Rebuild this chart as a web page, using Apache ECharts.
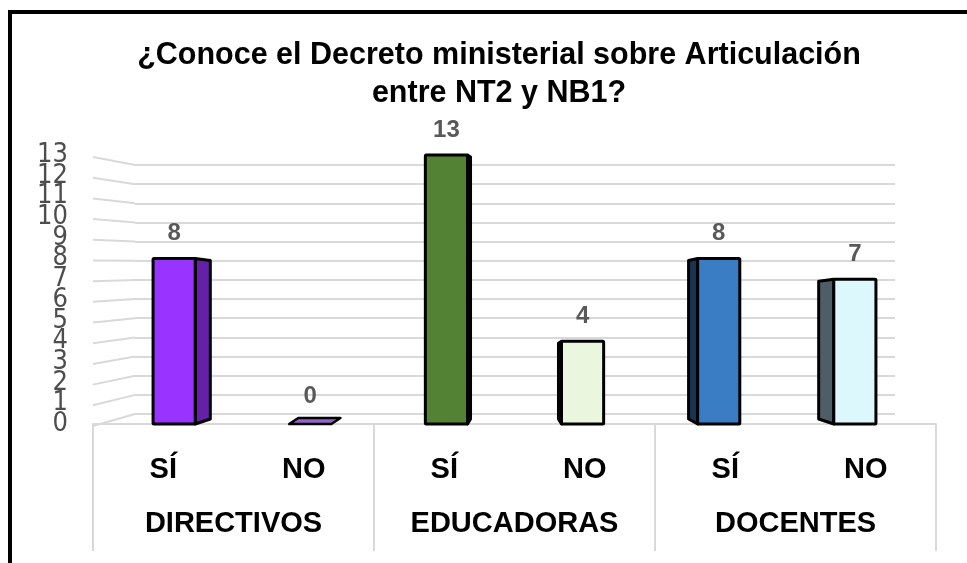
<!DOCTYPE html>
<html>
<head>
<meta charset="utf-8">
<script src="https://cdn.jsdelivr.net/npm/echarts@6/dist/echarts.min.js"></script>
<style>
  html, body { margin: 0; padding: 0; background: #fff; }
  #chart { width: 967px; height: 563px; }
</style>
</head>
<body>
<div id="chart"></div>
<script>
  // datos
  var titulo = '¿Conoce el Decreto ministerial sobre Articulación\nentre NT2 y NB1?'
  var respuestas = ['SÍ', 'NO', 'SÍ', 'NO', 'SÍ', 'NO']
  var grupos = ['DIRECTIVOS', 'EDUCADORAS', 'DOCENTES']
  var valores = [8, 0, 13, 4, 8, 7]
  var yMin = 0, yMax = 13, yPaso = 1

  var colorFrente = ['#9933ff', '#9564c9', '#548235', '#ebf6df', '#3b7dc4', '#dcf8fd']
  var colorLado = ['#6420a8', '#6a3f99', '#3b5e25', '#b9cca6', '#1b3352', '#4f5e66']

  var narrow = '"Liberation Sans Narrow", "DejaVu Sans Condensed", sans-serif'
  var sans = '"Liberation Sans", Arial, sans-serif'
  var gris = '#d9d9d9'

  var chart = echarts.init(document.getElementById('chart'))

  function renderBar(params, api) {
    var i = api.value(0), v = api.value(1)
    var base = api.coord([i, 0])
    var top = api.coord([i, v])
    var cs = params.coordSys
    var vp = cs.x + cs.width / 2
    var fx = base[0] + (vp - base[0]) * 0.031
    var lado = (vp - base[0]) * 0.043
    var w = api.size([1, 0])[0] * 0.3
    var y0 = base[1], y1 = top[1]
    var children = []
    var st = { stroke: '#000', lineWidth: 3, lineJoin: 'round' }
    if (v === 0) {
      children.push({
        type: 'polygon',
        shape: { points: [[fx - w / 2, y0], [fx + w / 2, y0], [fx + w / 2 + lado, y0 - 6], [fx - w / 2 + lado, y0 - 6]] },
        style: Object.assign({ fill: colorFrente[i] }, st, { lineWidth: 2.5 })
      })
      y1 = y0 - 3
    } else {
      var x1 = lado > 0 ? fx + w / 2 : fx - w / 2
      var x2 = x1 + lado
      children.push({
        type: 'polygon',
        shape: { points: [[x1, y1], [x2, y1 + 2], [x2, y0 - 5], [x1, y0]] },
        style: Object.assign({ fill: colorLado[i] }, st)
      })
      children.push({
        type: 'rect',
        shape: { x: fx - w / 2, y: y1, width: w, height: y0 - y1, r: 1 },
        style: Object.assign({ fill: colorFrente[i] }, st)
      })
    }
    children.push({
      type: 'text',
      style: {
        text: String(v), x: fx, y: y1 - 25,
        align: 'center', verticalAlign: 'middle',
        fontFamily: sans, fontWeight: 'bold', fontSize: 24, fill: '#595959'
      }
    })
    return { type: 'group', children: children }
  }

  // las etiquetas del eje Y se solapan: se reparten en dos ejes (pares / impares)
  // para que ECharts no oculte ninguna
  function ejeY(par) {
    return {
      type: 'value', gridIndex: 0, min: yMin, max: yMax, interval: yPaso, position: 'left',
      axisLine: { show: false }, axisTick: { show: false }, splitLine: { show: false },
      axisLabel: {
        margin: 25, fontFamily: narrow, fontSize: 27, color: '#4d4d4d',
        showMinLabel: true, showMaxLabel: true,
        formatter: function (v) { return (v % 2 === 0) === par ? String(v) : '' }
      }
    }
  }

  var option = {
    animation: false,
    backgroundColor: '#fff',
    title: {
      text: titulo,
      left: 494,
      top: 32,
      textAlign: 'center',
      textStyle: { fontFamily: sans, fontWeight: 'bold', fontSize: 30.5, lineHeight: 38, color: '#000' }
    },
    grid: [
      { left: 93, right: 31, top: 155, bottom: 139 },
      { left: 135, right: 72, top: 165, bottom: 149 }
    ],
    xAxis: [
      {
        type: 'category', gridIndex: 0, data: respuestas,
        axisLine: { show: false }, axisTick: { show: false },
        axisLabel: { margin: 31, fontFamily: sans, fontWeight: 'bold', fontSize: 29, color: '#000' }
      },
      {
        type: 'category', gridIndex: 0, data: grupos, position: 'bottom', offset: 4,
        axisLine: { show: true, lineStyle: { color: gris, width: 2 } },
        axisTick: { show: true, length: 127, lineStyle: { color: gris, width: 2 } },
        axisLabel: { margin: 81, fontFamily: sans, fontWeight: 'bold', fontSize: 29, color: '#000' }
      },
      { type: 'category', gridIndex: 1, data: respuestas, show: false }
    ],
    yAxis: [
      ejeY(true),
      {
        type: 'value', gridIndex: 1, min: yMin, max: yMax, interval: yPaso,
        axisLine: { show: false }, axisTick: { show: false }, axisLabel: { show: false },
        splitLine: { show: true, lineStyle: { color: gris, width: 2 } }
      },
      ejeY(false)
    ],
    series: [{
      type: 'custom',
      xAxisIndex: 0, yAxisIndex: 0,
      clip: false,
      renderItem: renderBar,
      data: valores.map(function (v, i) { return [i, v] }),
      z: 5
    }]
  }

  chart.setOption(option)

  // pared lateral: lineas inclinadas entre el eje frontal y la pared del fondo
  var lineas = []
  for (var t = yMin; t <= yMax; t += yPaso) {
    var yf = chart.convertToPixel({ yAxisIndex: 0 }, t)
    var yb = chart.convertToPixel({ yAxisIndex: 1 }, t)
    lineas.push({
      type: 'line', z: 1,
      shape: { x1: 93, y1: yf + 2, x2: 135, y2: yb },
      style: { stroke: gris, lineWidth: 2 }
    })
  }
  lineas.push({
    type: 'rect', z: 10,
    shape: { x: 10, y: 12, width: 1000, height: 600 },
    style: { fill: 'none', stroke: '#000', lineWidth: 4 }
  })
  chart.setOption({ graphic: lineas })
</script>
</body>
</html>
